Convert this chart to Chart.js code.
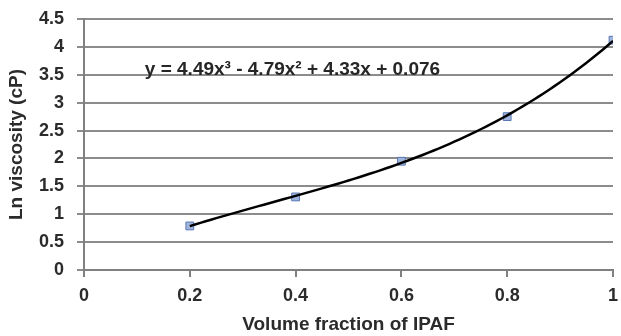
<!DOCTYPE html>
<html>
<head>
<meta charset="utf-8">
<script src="https://cdn.jsdelivr.net/npm/chart.js@4/dist/chart.umd.min.js"></script>
<style>
  html, body { margin: 0; padding: 0; background: #fff; }
  #box { position: relative; width: 621px; height: 336px; }
  #eq {
    position: absolute;
    font: bold 19px 'Helvetica Neue', Helvetica, Arial, sans-serif;
    color: #262626;
    white-space: nowrap;
    line-height: 1;
    transform: translateY(-50%);
  }
</style>
</head>
<body>
<div id="box">
  <canvas id="viscChart" width="621" height="336"></canvas>
  <div id="eq"></div>
</div>
<script>
// Measured points
var fractions = [0.2, 0.4, 0.6, 0.8, 1.0];
var lnViscosity = [0.79, 1.31, 1.95, 2.75, 4.12];

// Cubic fit coefficients (x^3, x^2, x, const) as printed on the chart
var fitCoef = [4.49, -4.79, 4.33, 0.076];
var fitLabel = 'y = 4.49x³ - 4.79x² + 4.33x + 0.076';
var fitLabelAt = [0.115, 3.63];

// axis ranges and tick spacing
var xRange = [0, 1], xStep = 0.2;
var yRange = [0, 4.5], yStep = 0.5;

// sample the fitted polynomial between the first and last point
var fitLine = [];
for (var i = 0; i <= 80; i++) {
	var x = fractions[0] + (fractions[fractions.length - 1] - fractions[0]) * i / 80;
	var y = fitCoef[0] * x * x * x + fitCoef[1] * x * x + fitCoef[2] * x + fitCoef[3];
	fitLine.push({ x: x, y: y });
}

var points = fractions.map(function(f, i) { return { x: f, y: lnViscosity[i] }; });

// drop trailing zeros: 4 instead of 4.0
function tickText(v) {
	return String(Math.round(v * 10) / 10);
}

var ctx = document.getElementById('viscChart');
var viscChart = new Chart(ctx, {
	type: 'scatter',
	data: {
		datasets: [{
			label: 'Poly. fit',
			data: fitLine,
			showLine: true,
			pointRadius: 0,
			borderColor: '#000',
			borderWidth: 2.5
		}, {
			label: 'Ln viscosity',
			data: points,
			pointStyle: 'rect',
			pointRadius: 5.5,
			pointBackgroundColor: '#9fb5dd',
			pointBorderColor: '#5877b3',
			pointBorderWidth: 1
		}]
	},
	options: {
		responsive: false,
		animation: false,
		layout: { padding: { top: 19, right: 8, left: 0, bottom: 0 } },
		plugins: {
			legend: { display: false },
			tooltip: { enabled: false }
		},
		scales: {
			x: {
				type: 'linear',
				min: xRange[0],
				max: xRange[1],
				afterFit: function(s) {
					s.height = 66;
					s.paddingLeft = 0;
					s.paddingRight = 0;
				},
				ticks: {
					stepSize: xStep,
					font: { size: 18, weight: 'bold' },
					color: '#2b2b2b',
					padding: 8,
					callback: tickText
				},
				grid: { drawOnChartArea: false, tickLength: 7, color: '#808080', lineWidth: 2 },
				border: { color: '#808080', width: 2 },
				title: {
					display: true,
					text: 'Volume fraction of IPAF',
					font: { size: 19, weight: 'bold' },
					color: '#2b2b2b',
					padding: { top: 0, bottom: 0 }
				}
			},
			y: {
				min: yRange[0],
				max: yRange[1],
				afterFit: function(s) {
					s.width = 84;
					s.paddingTop = 0;
					s.paddingBottom = 0;
				},
				ticks: {
					stepSize: yStep,
					font: { size: 18, weight: 'bold' },
					color: '#2b2b2b',
					padding: 13,
					callback: tickText
				},
				grid: { tickLength: 7, color: '#8c8c8c', lineWidth: 2 },
				border: { color: '#808080', width: 2 },
				title: {
					display: true,
					text: 'Ln viscosity (cP)',
					font: { size: 19, weight: 'bold' },
					color: '#2b2b2b',
					padding: { top: 5, bottom: 0 }
				}
			}
		}
	}
});

// equation label, positioned through the chart's scales
var eq = document.getElementById('eq');
eq.textContent = fitLabel;
eq.style.left = viscChart.scales.x.getPixelForValue(fitLabelAt[0]) + 'px';
eq.style.top = viscChart.scales.y.getPixelForValue(fitLabelAt[1]) + 'px';
</script>
</body>
</html>
